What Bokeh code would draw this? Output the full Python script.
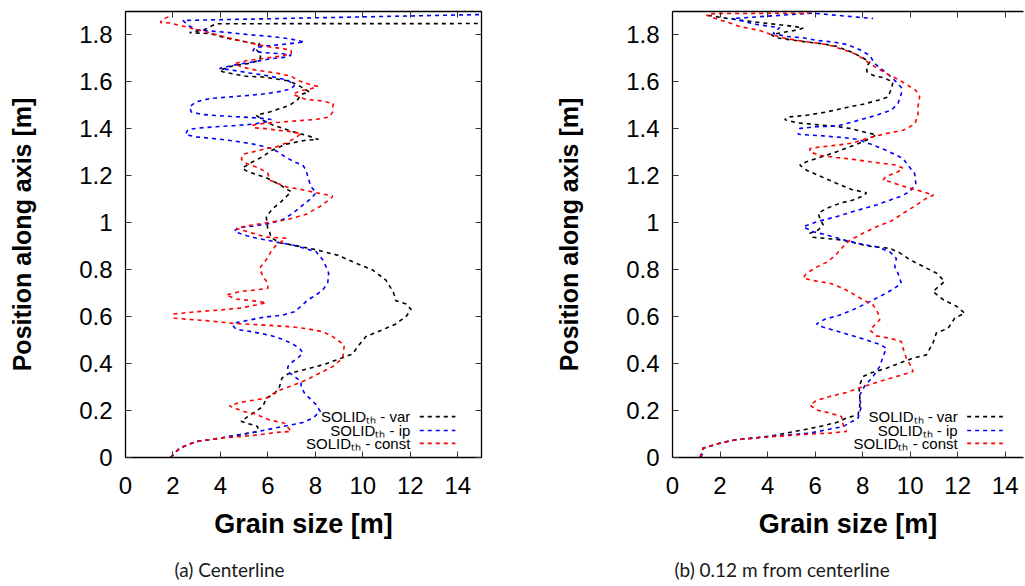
from bokeh.plotting import figure
from bokeh.models import (Range1d, FixedTicker, LinearAxis, Label, Title,
                          NumeralTickFormatter, CustomJSTickFormatter)
from bokeh.layouts import row
from bokeh.embed import file_html
from bokeh.resources import INLINE

# ---------------- data ----------------
X_TICKS = [0, 2, 4, 6, 8, 10, 12, 14]
Y_TICKS = [0, 0.2, 0.4, 0.6, 0.8, 1, 1.2, 1.4, 1.6, 1.8]
SERIES_NAMES = ["SOLIDₜₕ - var", "SOLIDₜₕ - ip", "SOLIDₜₕ - const"]
SERIES_COLORS = ["#000000", "#0000ff", "#ff0000"]
CAPTIONS = ["(a) Centerline", "(b) 0.12 m from centerline"]

# (a) centerline : position along axis [m] / grain size [m]
a_var_pos = [0.0, 0.04, 0.068, 0.082, 0.1, 0.11, 0.132, 0.154, 0.189, 0.217, 0.253, 0.271, 0.302, 0.338, 0.356,
             0.376, 0.399, 0.423, 0.441, 0.472, 0.515, 0.544, 0.569, 0.603, 0.631, 0.654, 0.668, 0.706, 0.756,
             0.799, 0.834, 0.862, 0.874, 0.888, 0.905, 0.915, 0.937, 0.962, 0.969, 1.026, 1.061, 1.09, 1.132,
             1.163, 1.192, 1.218, 1.232, 1.253, 1.282, 1.307, 1.335, 1.352, 1.355, 1.373, 1.388, 1.416, 1.437,
             1.458, 1.472, 1.5, 1.525, 1.547, 1.557, 1.579, 1.604, 1.621, 1.624, 1.643, 1.65, 1.669, 1.678,
             1.692, 1.72, 1.737, 1.763, 1.766, 1.784, 1.806, 1.81, 1.823, 1.848, 1.85]
a_var_size = [1.9, 2.28, 2.98, 3.96, 4.95, 5.57, 5.57, 4.87, 5.37, 5.79, 5.93, 6.28, 6.49, 6.59, 6.84,
              7.61, 8.45, 9.08, 9.57, 9.78, 10.13, 10.83, 11.39, 11.84, 12.03, 11.82, 11.39, 11.28, 10.97,
              10.41, 9.57, 8.94, 8.45, 7.89, 7.05, 6.49, 6.13, 6.07, 6.0, 5.93, 6.21, 6.56, 6.98,
              6.49, 5.93, 5.15, 4.92, 5.23, 5.79, 6.13, 6.77, 7.61, 8.13, 7.61, 7.05, 6.21, 5.79,
              5.51, 6.07, 6.91, 7.26, 7.4, 7.75, 7.4, 6.91, 5.79, 5.08, 4.1, 3.96, 4.52, 5.15,
              5.65, 5.71, 5.51, 5.65, 5.3, 4.38, 3.54, 2.7, 3.33, 3.82, 40.0]

a_ip_pos = [0.0, 0.04, 0.068, 0.082, 0.104, 0.118, 0.135, 0.149, 0.168, 0.196, 0.225, 0.253, 0.274, 0.302,
            0.323, 0.345, 0.366, 0.387, 0.409, 0.43, 0.447, 0.465, 0.483, 0.503, 0.521, 0.535, 0.546, 0.559,
            0.573, 0.583, 0.597, 0.607, 0.621, 0.645, 0.671, 0.692, 0.714, 0.742, 0.785, 0.813, 0.842, 0.877,
            0.891, 0.905, 0.915, 0.925, 0.935, 0.945, 0.955, 0.966, 0.98, 0.986, 0.997, 1.014, 1.04, 1.075,
            1.104, 1.128, 1.153, 1.196, 1.224, 1.245, 1.259, 1.278, 1.302, 1.316, 1.326, 1.337, 1.349, 1.359,
            1.366, 1.376, 1.397, 1.404, 1.409, 1.414, 1.42, 1.43, 1.44, 1.446, 1.451, 1.456, 1.461, 1.472,
            1.494, 1.515, 1.529, 1.536, 1.543, 1.55, 1.561, 1.571, 1.585, 1.607, 1.625, 1.638, 1.652, 1.657,
            1.671, 1.685, 1.698, 1.706, 1.714, 1.72, 1.725, 1.732, 1.745, 1.753, 1.76, 1.77, 1.784, 1.794,
            1.801, 1.81, 1.817, 1.823, 1.841, 1.862, 1.895]
a_ip_size = [1.9, 2.28, 2.98, 3.96, 5.23, 5.93, 6.77, 7.47, 7.89, 8.21, 8.03, 7.75, 7.54, 7.4,
             7.4, 7.12, 6.84, 6.84, 7.05, 7.33, 7.47, 7.33, 7.05, 6.63, 6.07, 5.37, 4.66, 4.55,
             4.59, 5.09, 5.79, 6.63, 7.12, 7.4, 7.68, 8.03, 8.31, 8.52, 8.56, 8.45, 8.31, 8.03,
             7.54, 7.05, 6.49, 6.0, 5.5, 5.1, 4.8, 4.59, 4.8, 5.37, 6.07, 6.63, 7.05, 7.47,
             7.82, 8.03, 7.82, 7.68, 7.61, 7.47, 7.12, 6.77, 6.42, 6.14, 5.79, 5.3, 4.52, 3.68,
             2.98, 2.53, 2.63, 3.12, 3.82, 4.59, 5.37, 5.93, 6.14, 5.65, 4.8, 3.96, 3.26, 2.77,
             2.7, 2.98, 3.54, 4.38, 5.23, 5.93, 6.63, 6.98, 7.12, 6.84, 6.07, 5.23, 4.38, 3.96,
             4.52, 5.37, 6.07, 6.77, 6.98, 6.63, 5.79, 5.37, 5.44, 5.93, 6.63, 7.54, 6.91, 6.07,
             5.23, 4.38, 3.54, 2.98, 2.63, 2.42, 19.0]

a_const_pos = [0.0, 0.04, 0.068, 0.082, 0.089, 0.097, 0.107, 0.111, 0.146, 0.16, 0.186, 0.196, 0.22, 0.234,
               0.246, 0.253, 0.281, 0.302, 0.33, 0.359, 0.387, 0.423, 0.479, 0.515, 0.536, 0.548, 0.557, 0.562,
               0.567, 0.571, 0.583, 0.593, 0.611, 0.621, 0.628, 0.636, 0.65, 0.66, 0.668, 0.675, 0.692, 0.707,
               0.714, 0.721, 0.742, 0.771, 0.806, 0.842, 0.877, 0.905, 0.934, 0.939, 0.957, 0.976, 0.986, 1.0,
               1.012, 1.036, 1.068, 1.104, 1.114, 1.128, 1.142, 1.153, 1.17, 1.182, 1.21, 1.232, 1.253, 1.27,
               1.292, 1.302, 1.316, 1.323, 1.34, 1.363, 1.38, 1.388, 1.395, 1.402, 1.405, 1.416, 1.423, 1.428,
               1.434, 1.44, 1.451, 1.472, 1.496, 1.507, 1.519, 1.525, 1.547, 1.561, 1.571, 1.581, 1.592, 1.604,
               1.624, 1.638, 1.65, 1.664, 1.678, 1.69, 1.7, 1.709, 1.72, 1.735, 1.742, 1.749, 1.763, 1.78,
               1.798, 1.817, 1.834, 1.851, 1.853, 1.867, 1.884]
a_const_size = [1.9, 2.28, 2.98, 3.96, 4.8, 5.65, 6.35, 6.98, 6.7, 6.07, 5.44, 4.95, 4.38, 4.8,
                5.51, 5.93, 6.35, 6.91, 7.61, 8.17, 8.73, 9.15, 9.22, 8.73, 8.31, 7.68, 6.98, 6.21,
                5.37, 4.59, 3.4, 2.07, 2.0, 2.98, 3.96, 4.8, 5.51, 5.93, 5.37, 4.66, 4.24, 4.8,
                5.51, 6.0, 6.0, 5.79, 5.65, 5.93, 6.13, 6.35, 6.77, 5.93, 5.3, 4.67, 5.08, 5.93,
                6.77, 7.61, 8.17, 8.66, 8.73, 8.03, 7.4, 6.77, 6.35, 6.07, 6.0, 5.65, 5.09, 4.88,
                4.95, 5.37, 5.93, 6.35, 6.77, 7.19, 7.4, 6.98, 6.35, 5.79, 5.37, 5.37, 5.79, 6.49,
                7.19, 8.03, 8.59, 8.73, 8.73, 8.76, 8.31, 7.61, 7.05, 7.33, 7.82, 8.1, 7.68, 7.33,
                6.98, 6.35, 5.51, 4.88, 4.6, 5.08, 5.79, 6.49, 6.98, 6.98, 6.63, 6.07, 5.37, 4.66,
                3.96, 3.26, 2.56, 1.86, 1.47, 1.55, 2.0]

# (b) 0.12 m from centerline
b_var_pos = [0.0, 0.04, 0.061, 0.076, 0.09, 0.118, 0.132, 0.149, 0.168, 0.182, 0.218, 0.26, 0.303, 0.345,
             0.359, 0.38, 0.408, 0.423, 0.437, 0.487, 0.53, 0.551, 0.594, 0.615, 0.644, 0.672, 0.707, 0.75,
             0.786, 0.807, 0.843, 0.872, 0.891, 0.9, 0.912, 0.926, 0.933, 0.938, 0.955, 0.969, 0.991, 1.019,
             1.04, 1.061, 1.083, 1.097, 1.118, 1.128, 1.142, 1.168, 1.196, 1.224, 1.246, 1.26, 1.274, 1.288,
             1.302, 1.324, 1.345, 1.374, 1.388, 1.402, 1.412, 1.419, 1.426, 1.44, 1.451, 1.458, 1.472, 1.491,
             1.505, 1.522, 1.536, 1.571, 1.6, 1.618, 1.628, 1.642, 1.664, 1.685, 1.706, 1.727, 1.752, 1.763,
             1.77, 1.78, 1.788, 1.801, 1.811, 1.822, 1.83, 1.837, 1.845, 1.853, 1.862, 1.873, 1.886]
b_var_size = [1.2, 1.29, 1.99, 2.69, 4.09, 5.5, 6.2, 6.9, 7.32, 7.81, 7.88, 7.88, 7.85, 8.02,
              8.3, 9.0, 9.7, 10.12, 10.68, 10.96, 11.1, 11.6, 11.88, 12.3, 11.95, 11.4, 10.96, 11.45,
              11.1, 10.68, 9.98, 9.56, 9.14, 8.3, 7.74, 7.18, 6.48, 5.92, 5.78, 6.13, 6.34, 6.2,
              6.13, 6.48, 7.04, 7.6, 8.09, 8.16, 7.53, 6.9, 6.27, 5.64, 5.36, 5.64, 6.06, 6.48,
              6.9, 7.46, 8.02, 8.58, 8.02, 7.46, 6.76, 5.92, 5.22, 4.72, 4.93, 5.64, 6.48, 7.32,
              8.02, 8.65, 9.07, 9.21, 9.28, 8.86, 8.44, 8.19, 8.16, 8.3, 7.95, 7.53, 6.9, 6.27,
              5.64, 4.93, 4.37, 4.16, 4.65, 5.29, 5.5, 5.07, 4.37, 3.67, 2.97, 2.13, 1.36]

b_ip_pos = [0.0, 0.04, 0.061, 0.076, 0.09, 0.104, 0.118, 0.132, 0.168, 0.218, 0.26, 0.305, 0.345, 0.388,
            0.43, 0.465, 0.482, 0.501, 0.522, 0.539, 0.555, 0.569, 0.589, 0.607, 0.636, 0.664, 0.693, 0.717,
            0.742, 0.785, 0.813, 0.848, 0.877, 0.898, 0.909, 0.926, 0.948, 0.962, 0.983, 1.004, 1.026, 1.052,
            1.076, 1.111, 1.132, 1.167, 1.21, 1.245, 1.274, 1.302, 1.331, 1.355, 1.363, 1.37, 1.377, 1.402,
            1.409, 1.412, 1.434, 1.458, 1.48, 1.508, 1.551, 1.576, 1.614, 1.65, 1.678, 1.713, 1.737, 1.76,
            1.77, 1.777, 1.788, 1.794, 1.806, 1.831, 1.845, 1.87, 1.893, 1.87]
b_ip_size = [1.2, 1.29, 1.99, 2.69, 4.09, 5.78, 6.48, 7.18, 7.81, 7.95, 7.85, 8.09, 8.44, 8.72,
             8.86, 9.0, 8.72, 8.16, 7.46, 6.9, 6.34, 6.06, 6.41, 7.04, 7.74, 8.3, 8.86, 9.28,
             9.63, 9.49, 9.35, 9.42, 9.14, 8.58, 7.95, 7.25, 6.48, 5.92, 5.5, 6.06, 6.9, 7.74,
             8.58, 9.56, 9.98, 10.24, 10.19, 9.91, 9.7, 9.14, 8.44, 7.81, 7.18, 6.34, 5.29, 5.36,
             6.06, 6.9, 7.74, 8.58, 9.21, 9.49, 9.63, 9.63, 9.28, 8.86, 8.51, 8.3, 7.88, 7.32,
             6.76, 6.06, 5.5, 4.79, 4.23, 4.51, 3.53, 2.5, 5.9, 8.44]

b_const_pos = [0.0, 0.04, 0.061, 0.076, 0.088, 0.1, 0.104, 0.111, 0.139, 0.175, 0.189, 0.203, 0.224, 0.243,
               0.26, 0.277, 0.302, 0.324, 0.345, 0.366, 0.387, 0.423, 0.465, 0.494, 0.508, 0.518, 0.543, 0.565,
               0.586, 0.615, 0.65, 0.672, 0.693, 0.721, 0.742, 0.754, 0.764, 0.785, 0.811, 0.835, 0.867, 0.898,
               0.926, 0.955, 0.983, 1.008, 1.04, 1.075, 1.104, 1.118, 1.132, 1.142, 1.156, 1.175, 1.182, 1.199,
               1.213, 1.232, 1.246, 1.253, 1.26, 1.27, 1.278, 1.287, 1.302, 1.316, 1.323, 1.33, 1.34, 1.363,
               1.38, 1.394, 1.42, 1.458, 1.494, 1.536, 1.564, 1.585, 1.607, 1.632, 1.657, 1.678, 1.699, 1.72,
               1.735, 1.752, 1.763, 1.769, 1.777, 1.788, 1.801, 1.817, 1.827, 1.834, 1.851, 1.869, 1.884, 1.891,
               1.893]
b_const_size = [1.15, 1.29, 1.99, 2.69, 4.09, 5.8, 6.62, 7.32, 7.18, 7.11, 6.62, 6.06, 5.78, 6.06,
                6.62, 7.32, 8.02, 8.72, 9.42, 10.12, 10.05, 9.84, 9.7, 9.63, 9.14, 8.58, 8.3, 8.51,
                8.72, 8.65, 8.44, 8.02, 7.67, 7.18, 6.62, 5.92, 5.5, 5.64, 6.06, 6.55, 6.9, 7.18,
                7.46, 8.02, 8.58, 9.21, 9.7, 10.26, 10.68, 10.99, 10.54, 10.19, 9.7, 9.14, 8.86, 9.0,
                9.42, 9.7, 9.42, 8.86, 8.3, 7.6, 6.9, 6.2, 5.78, 5.78, 6.2, 6.9, 7.6, 8.3,
                9.0, 9.7, 10.19, 10.33, 10.33, 10.4, 10.24, 9.91, 9.56, 9.07, 8.65, 8.3, 8.02, 7.67,
                7.25, 6.76, 6.27, 5.78, 5.22, 4.65, 4.16, 3.74, 3.32, 2.9, 2.41, 1.85, 1.43, 1.71,
                5.78]

# legend placement (data units)
LEG_TEXT_X = 12.0
LEG_LINE_X = [12.4, 13.9]
LEG_ROWS_Y = [0.174, 0.115, 0.06]

X_LABEL = "Grain size [m]"
Y_LABEL = "Position along axis [m]"

TICK_FONT = "Liberation Sans"
CAPTION_FONT = "Lato"


def style_axis(ax, ticks, show_labels):
    ax.ticker = FixedTicker(ticks=ticks)
    ax.major_tick_in = 6
    ax.major_tick_out = 0
    ax.minor_tick_line_color = None
    ax.major_tick_line_color = "#333333"
    ax.axis_line_color = "#000000"
    ax.axis_line_width = 1.3
    if show_labels:
        ax.formatter = NumeralTickFormatter(format="0.[0]")
        ax.major_label_text_font = TICK_FONT
        ax.major_label_text_font_size = "24px"
        ax.major_label_text_color = "#000000"
    else:
        ax.formatter = CustomJSTickFormatter(code="return ''")
        ax.major_label_text_font_size = "1px"
        ax.major_label_standoff = 0


def make_panel(series, x_end, frame_w, border_r, caption, cap_offset, right_frame):
    p = figure(frame_width=frame_w, frame_height=446,
               x_range=Range1d(0, x_end), y_range=Range1d(0, 1.9),
               output_backend="svg", toolbar_location=None,
               min_border_left=125, min_border_right=border_r,
               min_border_top=11, min_border_bottom=0,
               x_axis_label=X_LABEL, y_axis_label=Y_LABEL)
    p.grid.visible = False
    p.outline_line_color = "#000000" if right_frame else None
    p.background_fill_color = "white"
    p.border_fill_color = "white"

    style_axis(p.xaxis[0], X_TICKS, True)
    style_axis(p.yaxis[0], Y_TICKS, True)
    p.xaxis.major_label_standoff = 19
    p.yaxis.major_label_standoff = 13
    for ax in (p.xaxis[0], p.yaxis[0]):
        ax.axis_label_text_font = TICK_FONT
        ax.axis_label_text_font_style = "bold"
        ax.axis_label_text_color = "#000000"
    p.xaxis.axis_label_text_font_size = "27px"
    p.yaxis.axis_label_text_font_size = "25px"
    p.xaxis.axis_label_standoff = 12
    p.yaxis.axis_label_standoff = 40

    top = LinearAxis()
    style_axis(top, X_TICKS, False)
    p.add_layout(top, "above")
    if right_frame:
        rt = LinearAxis()
        style_axis(rt, Y_TICKS, False)
        p.add_layout(rt, "right")

    for (pos, size), name, color in zip(series, SERIES_NAMES, SERIES_COLORS):
        p.line(size, pos, line_color=color, line_width=1.6, line_dash="4 4")

    for name, color, ly in zip(SERIES_NAMES, SERIES_COLORS, LEG_ROWS_Y):
        p.add_layout(Label(x=LEG_TEXT_X, y=ly, text=name, text_align="right",
                           text_baseline="middle", text_font=TICK_FONT,
                           text_font_size="15px", text_color="#000000"))
        p.line(LEG_LINE_X, [ly, ly], line_color=color, line_width=1.6, line_dash="4 4")

    t = Title(text=caption, align="left", offset=cap_offset,
              text_font=CAPTION_FONT, text_font_size="19px",
              text_font_style="normal", text_color="#1a1a1a", standoff=28)
    p.add_layout(t, "below")
    return p


p1 = make_panel([(a_var_pos, a_var_size), (a_ip_pos, a_ip_size), (a_const_pos, a_const_size)],
                15, 356, 66, CAPTIONS[0], 49, True)
p2 = make_panel([(b_var_pos, b_var_size), (b_ip_pos, b_ip_size), (b_const_pos, b_const_size)],
                14.77, 351, 1, CAPTIONS[1], 2, False)

layout = row(p1, p2, spacing=0)
open("out.html", "w").write(file_html(layout, INLINE))
